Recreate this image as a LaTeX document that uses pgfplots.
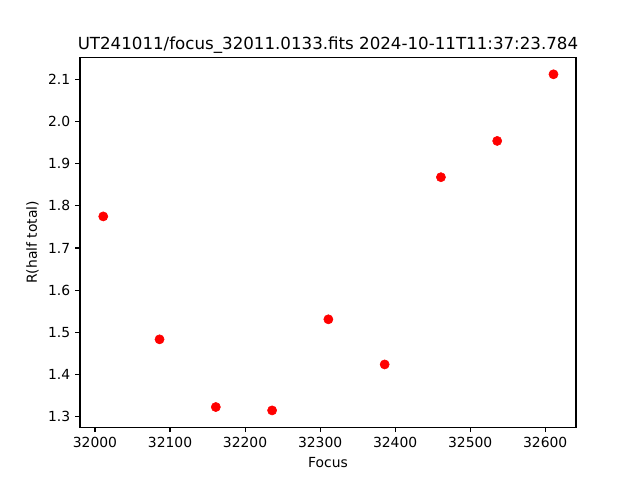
\documentclass[border=0pt]{standalone}
\usepackage{pgfplots}
\pgfplotsset{compat=1.18}
\usepackage{fontspec}
\setmainfont{DejaVu Sans}
\begin{document}
\begin{tikzpicture}
\path[use as bounding box] (0,0) rectangle (460.8pt,345.6pt);
\begin{axis}[
  at={(57.6pt,38.02pt)}, anchor=south west,
  scale only axis, width=357.12pt, height=266.11pt,
  xmin=31980, xmax=32641, ymin=1.2752, ymax=2.1516,
  xtick={32000,32100,32200,32300,32400,32500,32600},
  ytick={1.3,1.4,1.5,1.6,1.7,1.8,1.9,2.0,2.1},
  scaled x ticks=false,
  x tick label style={/pgf/number format/.cd, set thousands separator={}, 1000 sep={}},
  y tick label style={/pgf/number format/.cd, fixed, fixed zerofill, precision=1},
  /pgf/number format/assume math mode=true,
  tick label style={font=\fontsize{10}{12}\selectfont},
  label style={font=\fontsize{10}{12}\selectfont},
  tick align=outside, tick pos=left,
  major tick length=3.5pt,
  every tick/.style={black, line width=0.8pt},
  axis line style={line width=0.8pt},
  xlabel={Focus}, ylabel={R(half total)},
  title={UT241011/focus\_32011.0133.fits 2024-10-11T11:37:23.784},
  title style={at={(0.5,1)}, anchor=south, yshift=-6.8pt, font=\fontsize{12}{14}\selectfont},
]
\addplot[only marks, mark=*, mark size=3.3pt, color=red, mark options={fill=red, draw=red}] coordinates {
(32011,1.775) (32086,1.4835) (32161,1.323) (32236,1.315) (32311,1.531)
(32386,1.424) (32461,1.868) (32536,1.954) (32611,2.112)
};
\end{axis}
\end{tikzpicture}
\end{document}
